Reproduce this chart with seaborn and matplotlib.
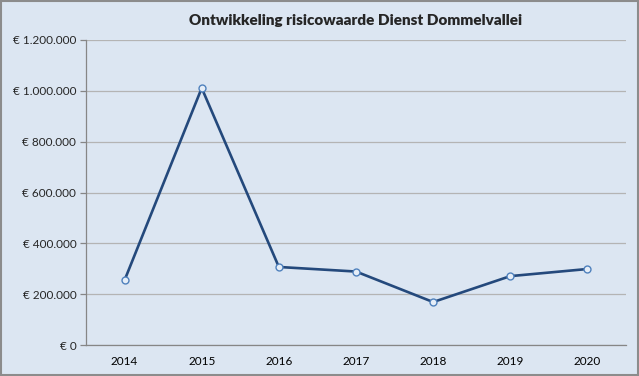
import matplotlib
matplotlib.use("Agg")
import matplotlib.pyplot as plt
import seaborn as sns
import pandas as pd
from matplotlib.ticker import FuncFormatter, FixedLocator
from matplotlib.patches import Rectangle

# data
years = ["2014", "2015", "2016", "2017", "2018", "2019", "2020"]
risk_value = [255000, 1011000, 307000, 289000, 169000, 271000, 299000]
y_ticks = [0, 200000, 400000, 600000, 800000, 1000000, 1200000]

df = pd.DataFrame({"Jaar": years, "Risicowaarde": risk_value})

bg = "#DCE6F2"
sns.set_theme(style="white")
plt.rcParams["font.family"] = ["Lato", "DejaVu Sans"]

fig = plt.figure(figsize=(6.39, 3.76), dpi=100, facecolor=bg)
ax = fig.add_axes([86 / 639, 31 / 376, 540 / 639, 305 / 376])
ax.set_facecolor(bg)

sns.lineplot(data=df, x="Jaar", y="Risicowaarde", ax=ax, sort=False,
             color="#24497C", linewidth=1.9, marker="o", markersize=5,
             markerfacecolor="#E6EEF8", markeredgecolor="#4F81BD", markeredgewidth=1)

ax.set_xlim(-0.5, len(years) - 0.5)
ax.set_ylim(0, 1200000)
ax.yaxis.set_major_locator(FixedLocator(y_ticks))
ax.yaxis.set_major_formatter(FuncFormatter(
    lambda v, p: "€ " + f"{int(v):,}".replace(",", ".")))
ax.grid(axis="y", color="#B4B4B4", linewidth=0.9)
ax.set_axisbelow(True)

# category ticks between labels, labels centred
ax.set_xticks(range(len(years)))
ax.set_xticklabels(years)
ax.set_xticks([i - 0.5 for i in range(len(years) + 1)], minor=True)
ax.tick_params(axis="x", which="major", length=0, pad=8, labelsize=8.5, colors="#000000")
ax.tick_params(axis="x", which="minor", length=4, width=0.9, color="#868686", direction="out")
ax.tick_params(axis="y", which="major", length=4, width=0.9, color="#868686",
               direction="out", labelsize=8.5, pad=3, left=True)

for s in ["top", "right"]:
    ax.spines[s].set_visible(False)
for s in ["left", "bottom"]:
    ax.spines[s].set_color("#868686")
    ax.spines[s].set_linewidth(0.9)

ax.set_xlabel("")
ax.set_ylabel("")
ax.set_title("Ontwikkeling risicowaarde Dienst Dommelvallei", fontsize=11,
             fontweight="heavy", pad=11)

# grey border around the chart area
fig.patches.append(Rectangle((0.0015, 0.0025), 0.997, 0.995, transform=fig.transFigure,
                             fill=False, edgecolor="#8C8C8C", linewidth=1.5))

fig.savefig("out.png", dpi=100, facecolor=bg)
